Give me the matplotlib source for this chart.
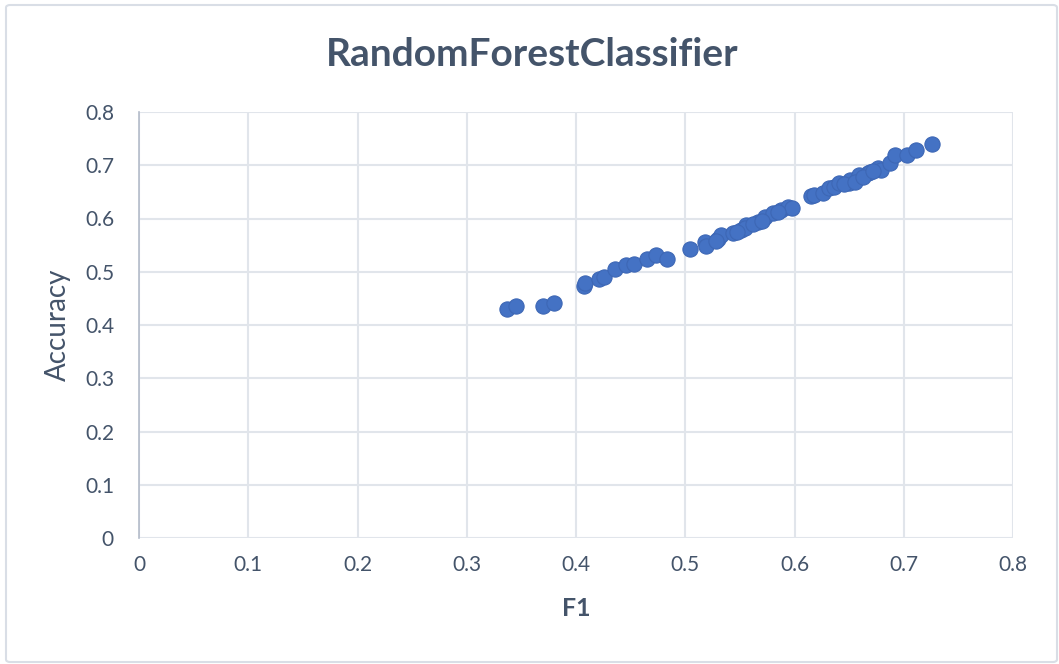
import matplotlib.pyplot as plt
from matplotlib.patches import FancyBboxPatch

# F1 vs accuracy
f1 = [0.337, 0.345, 0.370, 0.380, 0.407, 0.408, 0.421, 0.426, 0.436, 0.446,
      0.453, 0.465, 0.473, 0.483, 0.504, 0.518, 0.519, 0.530, 0.533, 0.544,
      0.551, 0.556, 0.555, 0.567, 0.573, 0.580, 0.588, 0.594, 0.598, 0.615,
      0.618, 0.626, 0.632, 0.636, 0.641, 0.650, 0.651, 0.658, 0.659, 0.667,
      0.669, 0.676, 0.679, 0.687, 0.692, 0.703, 0.711, 0.726,
      0.528, 0.547, 0.562, 0.570, 0.585, 0.645, 0.655, 0.663, 0.672]
accuracy = [0.430, 0.436, 0.436, 0.441, 0.474, 0.478, 0.486, 0.490, 0.505, 0.513,
            0.515, 0.524, 0.531, 0.524, 0.543, 0.556, 0.549, 0.561, 0.569, 0.573,
            0.578, 0.588, 0.582, 0.593, 0.603, 0.610, 0.616, 0.622, 0.620, 0.642,
            0.644, 0.648, 0.657, 0.660, 0.667, 0.667, 0.672, 0.676, 0.681, 0.685,
            0.687, 0.695, 0.691, 0.704, 0.719, 0.719, 0.729, 0.740,
            0.557, 0.575, 0.590, 0.596, 0.612, 0.664, 0.668, 0.678, 0.690]
x_ticks = [0, 0.1, 0.2, 0.3, 0.4, 0.5, 0.6, 0.7, 0.8]
y_ticks = [0, 0.1, 0.2, 0.3, 0.4, 0.5, 0.6, 0.7, 0.8]
x_labels = ["0", "0.1", "0.2", "0.3", "0.4", "0.5", "0.6", "0.7", "0.8"]
y_labels = ["0", "0.1", "0.2", "0.3", "0.4", "0.5", "0.6", "0.7", "0.8"]

TEXT = "#44546A"
GRID = "#E1E5EB"
DOT = "#4472C4"

plt.rcParams["font.family"] = ["Lato", "DejaVu Sans"]

W, H = 1059, 664
fig = plt.figure(figsize=(W / 100, H / 100), dpi=100)
fig.patch.set_facecolor("white")

# outer chart border
fig.patches.append(FancyBboxPatch((6 / W, 2 / H), 1051 / W, 657 / H,
                                  boxstyle="round,pad=0,rounding_size=0.004",
                                  transform=fig.transFigure, fill=False,
                                  edgecolor="#D9DEE6", linewidth=1.5))

ax = fig.add_axes([139 / W, 1 - 538 / H, (1013 - 139) / W, (538 - 112) / H])
ax.scatter(f1, accuracy, s=120, color=DOT, edgecolors="#3D67B5",
           linewidths=0.8, zorder=3, clip_on=False)

ax.set_xlim(0, 0.8)
ax.set_ylim(0, 0.8)
ax.set_xticks(x_ticks)
ax.set_xticklabels(x_labels)
ax.set_yticks(y_ticks)
ax.set_yticklabels(y_labels)
ax.tick_params(length=0, labelsize=15, colors=TEXT, pad=12)
ax.tick_params(axis="y", pad=18)
ax.grid(True, color=GRID, linewidth=1.5, zorder=0)
ax.set_axisbelow(True)
for side in ["top", "right", "bottom"]:
    ax.spines[side].set_visible(False)
ax.spines["left"].set_color("#B4BCCA")
ax.spines["left"].set_linewidth(1.2)

ax.set_xlabel("F1", fontsize=18, fontweight="bold", color=TEXT, labelpad=16)
ax.set_ylabel("Accuracy", fontsize=20, color=TEXT, labelpad=10)
fig.text(532 / W, 1 - 55 / H, "RandomForestClassifier", ha="center",
         va="center", fontsize=28, fontweight="bold", color=TEXT)

fig.savefig("out.png", dpi=100)
